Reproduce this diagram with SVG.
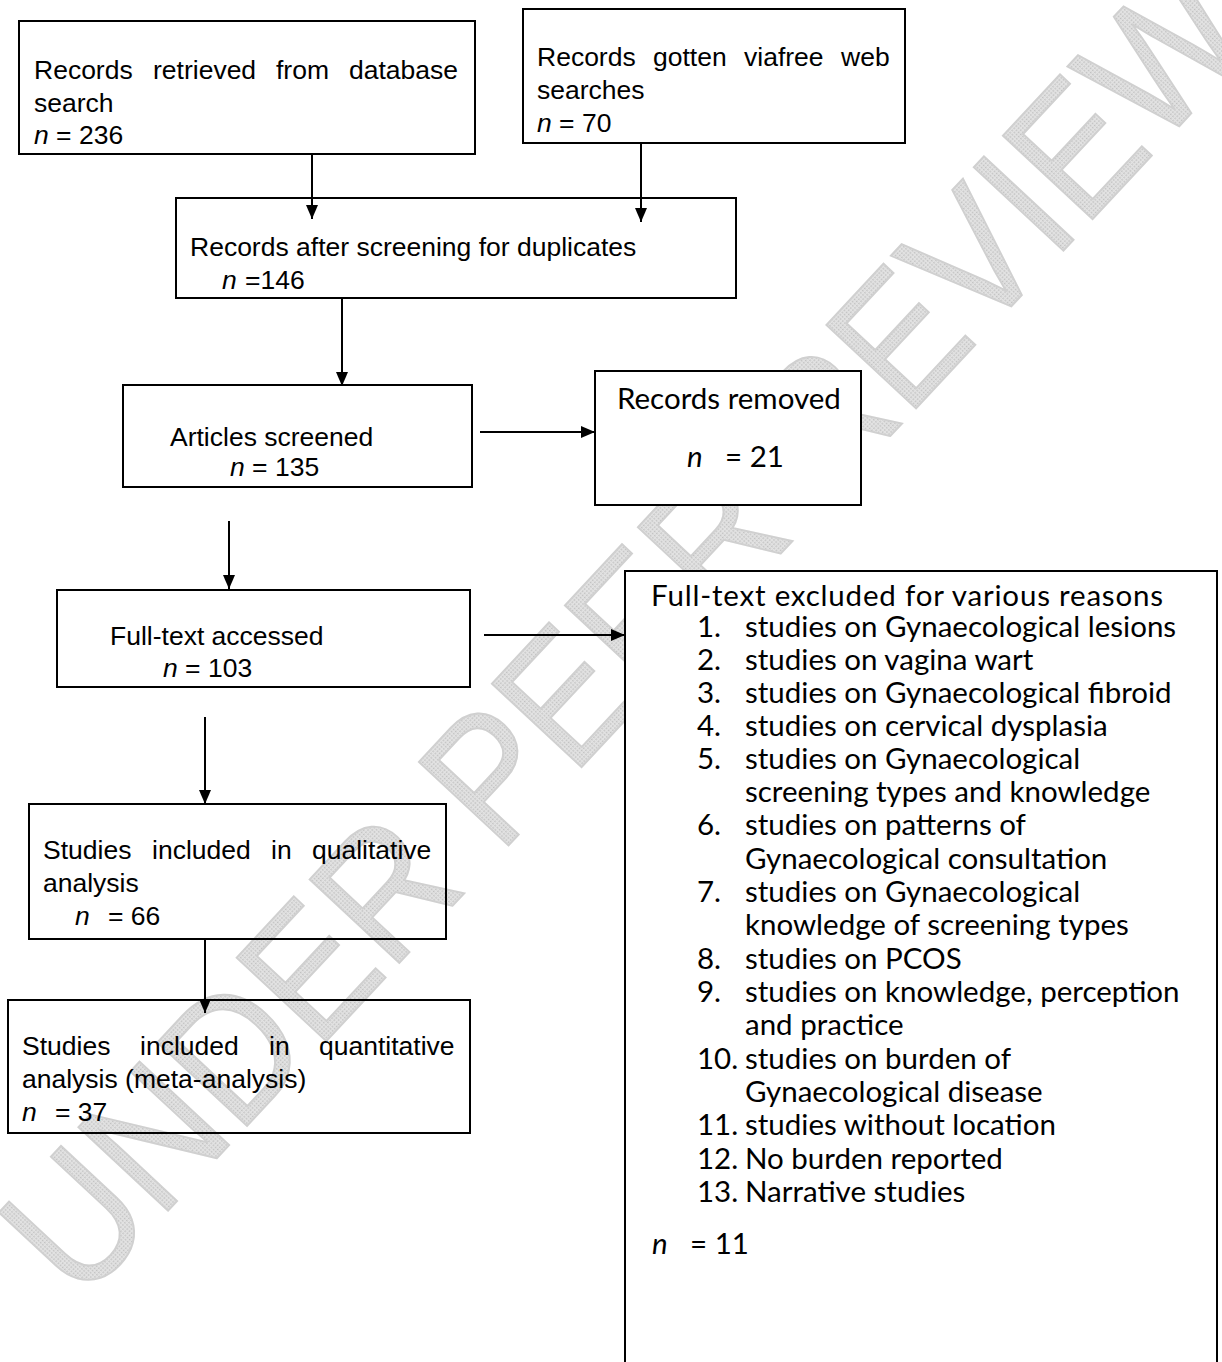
<svg xmlns="http://www.w3.org/2000/svg" width="1222" height="1362" viewBox="0 0 1222 1362">
<defs>
<marker id="ah" viewBox="0 0 14 12" refX="14" refY="6" markerWidth="14" markerHeight="12" markerUnits="userSpaceOnUse" orient="auto">
<path d="M0,0 L14,6 L0,12 z" fill="#000"/>
</marker>
<pattern id="dots" width="3" height="3" patternUnits="userSpaceOnUse">
<rect width="3" height="3" fill="#e3e3e3"/>
<rect width="1.5" height="1.5" fill="#c0c0c0"/>
</pattern>
<style>
.box{stroke:#000;stroke-width:2;fill:#fff}
.clear{fill:none}
.a{font-family:"Liberation Sans",Arial,sans-serif;font-size:26.5px;fill:#000}
.c{font-family:Lato,"Open Sans",sans-serif;font-size:29.5px;fill:#000}
.i{font-style:italic}
.conn line{stroke:#000;stroke-width:2;marker-end:url(#ah)}
.wm{font-family:"Liberation Sans",Arial,sans-serif;font-size:178px;fill:url(#dots);stroke:#d0d0d0;stroke-width:2}
</style>
</defs>
<rect width="1222" height="1362" fill="#fff"/>
<g id="watermark">
<text class="wm" transform="translate(80,1305) rotate(-47)" textLength="1730" lengthAdjust="spacingAndGlyphs">UNDER PEER REVIEW</text>
</g>
<g id="n1">
<rect class="box" x="19" y="21" width="456" height="133"/>
<text class="a" y="79"><tspan x="34">Records</tspan><tspan x="153">retrieved</tspan><tspan x="276">from</tspan><tspan x="349">database</tspan></text>
<text class="a" x="34" y="112">search</text>
<text class="a" x="34" y="144"><tspan class="i">n</tspan> = 236</text>
</g>
<g id="n2">
<rect class="box" x="523" y="9" width="382" height="134"/>
<text class="a" y="66"><tspan x="537">Records</tspan><tspan x="653">gotten</tspan><tspan x="744">viafree</tspan><tspan x="841">web</tspan></text>
<text class="a" x="537" y="99">searches</text>
<text class="a" x="537" y="132"><tspan class="i">n</tspan>  = 70</text>
</g>
<g id="n3">
<rect class="box" x="176" y="198" width="560" height="100"/>
<text class="a" x="190" y="256">Records after screening for duplicates</text>
<text class="a" x="222" y="289"><tspan class="i">n</tspan><tspan x="245">=146</tspan></text>
</g>
<g id="n4">
<rect class="box" x="123" y="385" width="349" height="102"/>
<text class="a" x="170" y="446">Articles screened</text>
<text class="a" x="230" y="476"><tspan class="i">n</tspan> = 135</text>
</g>
<g id="n5">
<rect class="box" x="595" y="371" width="266" height="134"/>
<text class="c" x="617" y="409">Records removed</text>
<text class="c" y="467"><tspan class="i" x="687">n</tspan><tspan x="725">= 21</tspan></text>
</g>
<g id="n6">
<rect class="box" x="57" y="590" width="413" height="97"/>
<text class="a" x="110" y="645">Full-text accessed</text>
<text class="a" x="163" y="677"><tspan class="i">n</tspan> = 103</text>
</g>
<g id="n7">
<path class="box" d="M625,1362 V571 H1217 V1362"/>
<text class="c" x="651" y="606" textLength="512" lengthAdjust="spacing">Full-text excluded for various reasons</text>
<g class="c">
<text y="637"><tspan x="697">1.</tspan><tspan x="745">studies on Gynaecological lesions</tspan></text>
<text y="670"><tspan x="697">2.</tspan><tspan x="745">studies on vagina wart</tspan></text>
<text y="703"><tspan x="697">3.</tspan><tspan x="745">studies on Gynaecological fibroid</tspan></text>
<text y="736"><tspan x="697">4.</tspan><tspan x="745">studies on cervical dysplasia</tspan></text>
<text y="769"><tspan x="697">5.</tspan><tspan x="745">studies on Gynaecological</tspan></text>
<text y="802"><tspan x="745">screening types and knowledge</tspan></text>
<text y="835"><tspan x="697">6.</tspan><tspan x="745">studies on patterns of</tspan></text>
<text y="869"><tspan x="745">Gynaecological consultation</tspan></text>
<text y="902"><tspan x="697">7.</tspan><tspan x="745">studies on Gynaecological</tspan></text>
<text y="935"><tspan x="745">knowledge of screening types</tspan></text>
<text y="969"><tspan x="697">8.</tspan><tspan x="745">studies on PCOS</tspan></text>
<text y="1002"><tspan x="697">9.</tspan><tspan x="745">studies on knowledge, perception</tspan></text>
<text y="1035"><tspan x="745">and practice</tspan></text>
<text y="1069"><tspan x="697">10.</tspan><tspan x="745">studies on burden of</tspan></text>
<text y="1102"><tspan x="745">Gynaecological disease</tspan></text>
<text y="1135"><tspan x="697">11.</tspan><tspan x="745">studies without location</tspan></text>
<text y="1169"><tspan x="697">12.</tspan><tspan x="745">No burden reported</tspan></text>
<text y="1202"><tspan x="697">13.</tspan><tspan x="745">Narrative studies</tspan></text>
<text y="1254"><tspan class="i" x="652">n</tspan><tspan x="690">= 11</tspan></text>
</g>
</g>
<g id="n8">
<rect class="box clear" x="29" y="804" width="417" height="135"/>
<text class="a" y="859"><tspan x="43">Studies</tspan><tspan x="152">included</tspan><tspan x="271">in</tspan><tspan x="312">qualitative</tspan></text>
<text class="a" x="43" y="892">analysis</text>
<text class="a" x="75" y="925"><tspan class="i">n</tspan><tspan x="108">= 66</tspan></text>
</g>
<g id="n9">
<rect class="box clear" x="8" y="1000" width="462" height="133"/>
<text class="a" y="1055"><tspan x="22">Studies</tspan><tspan x="140">included</tspan><tspan x="269">in</tspan><tspan x="319">quantitative</tspan></text>
<text class="a" x="22" y="1088">analysis (meta-analysis)</text>
<text class="a" x="22" y="1121"><tspan class="i">n</tspan><tspan x="55">= 37</tspan></text>
</g>
<g id="connectors" class="conn">
<line x1="312" y1="154" x2="312" y2="219"/>
<line x1="641" y1="143" x2="641" y2="222"/>
<line x1="342" y1="298" x2="342" y2="386"/>
<line x1="480" y1="432" x2="595" y2="432"/>
<line x1="229" y1="521" x2="229" y2="589"/>
<line x1="484" y1="635" x2="625" y2="635"/>
<line x1="205" y1="717" x2="205" y2="804"/>
<line x1="205" y1="939" x2="205" y2="1013"/>
</g>
</svg>
